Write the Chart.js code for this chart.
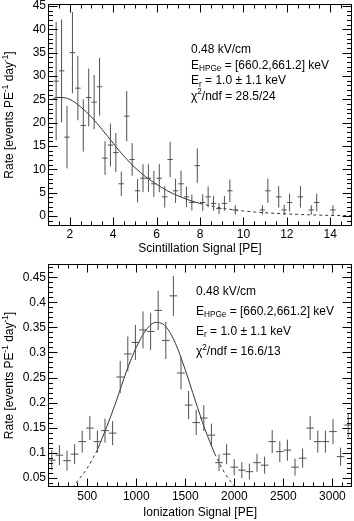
<!DOCTYPE html>
<html><head><meta charset="utf-8">
<script src="https://cdn.jsdelivr.net/npm/chart.js@4.4.1/dist/chart.umd.min.js"></script>
<style>
html,body{margin:0;padding:0;background:#fff;}
#wrap{position:relative;width:354px;height:521px;overflow:hidden;}
.panel{position:absolute;left:0;width:354px;}
#p1{top:0;height:260px;}
#p2{top:260px;height:261px;}
</style></head><body>
<div id="wrap">
<div class="panel" id="p1"><canvas id="c1"></canvas></div>
<div class="panel" id="p2"><canvas id="c2"></canvas></div>
</div>
<script>
// ---------- top panel: scintillation signal ----------
const scintCenters = [1.375,1.625,1.875,2.125,2.375,2.625,2.875,3.125,3.375,3.625,3.875,4.125,4.375,4.625,4.875,5.125,5.375,5.625,5.875,6.125,6.375,6.625,6.875,7.125,7.375,7.625,7.875,8.125,8.375,8.625,8.875,9.125,9.375,9.625,10.875,11.125,11.625,11.875,12.125,12.625,13.125,13.375,14.125];
const scintRate = [28.9,31.1,16.9,35.0,27.4,19.4,25.4,24.4,27.7,12.4,15.2,13.6,6.9,21.4,12.1,5.4,8.1,8.1,6.9,8.1,4.1,12.1,5.4,6.9,4.1,2.9,10.8,2.9,4.1,2.7,1.6,2.7,5.4,1.3,1.3,5.4,4.1,1.3,2.9,4.1,1.3,2.9,1.3];
const scintErr = [12.7,11.0,6.7,8.7,6.9,5.6,6.2,5.8,6.2,3.6,4.6,4.2,2.6,5.4,3.5,2.5,3.0,3.0,2.8,3.0,2.3,3.8,2.6,2.8,2.2,1.7,3.7,1.8,2.2,1.6,1.2,1.6,2.4,1.0,1.0,2.6,2.3,1.1,1.9,2.3,1.0,1.9,1.0];
const scintBinHalf = 0.125;
const scintFitX = [1.25,1.4,1.6,2.0,2.5,3.0,3.5,4.0,4.5,5.0,5.5,6.0,6.5,7.0,7.5,8.0,8.5,9.0,9.5,10.0,10.5,11.0,11.5,12.0,12.5,13.0,13.5,14.0,14.5,15.0];
const scintFitY = [25.2,25.4,25.4,25.0,23.4,21.2,18.5,15.6,12.8,10.4,8.4,6.8,5.4,4.3,3.4,2.7,2.15,1.7,1.35,1.08,0.87,0.7,0.56,0.45,0.35,0.26,0.19,0.14,0.11,0.08];
const scintFitRange = [1.25, 8.0];
const scintXTicks = [2,4,6,8,10,12,14];
const scintYTicks = [0,5,10,15,20,25,30,35,40,45];
const scintAnnot = [
  [{t:'0.48 kV/cm'}],
  [{t:'E'},{t:'HPGe',s:'sub'},{t:' = [660.2,661.2] keV'}],
  [{t:'E'},{t:'r',s:'sub'},{t:' = 1.0 \u00b1 1.1 keV'}],
  [{t:'\u03c7'},{t:'2',s:'sup'},{t:'/ndf = 28.5/24'}]
];

// ---------- bottom panel: ionization signal ----------
const ionCenters = [138.75,216.25,293.75,371.25,448.75,526.25,603.75,681.25,758.75,836.25,913.75,991.25,1068.75,1146.25,1223.75,1301.25,1378.75,1456.25,1533.75,1611.25,1688.75,1766.25,1843.75,1921.25,1998.75,2076.25,2153.75,2231.25,2308.75,2386.25,2463.75,2541.25,2618.75,2696.25,2773.75,2851.25,2928.75,3006.25,3083.75,3161.25];
const ionRate = [0.085,0.095,0.084,0.097,0.122,0.149,0.122,0.144,0.139,0.251,0.297,0.320,0.345,0.342,0.384,0.324,0.413,0.259,0.195,0.160,0.169,0.135,0.080,0.097,0.071,0.065,0.062,0.080,0.075,0.122,0.102,0.105,0.071,0.089,0.149,0.122,0.122,0.142,0.092,0.155];
const ionErr = [0.020,0.020,0.020,0.020,0.022,0.024,0.022,0.024,0.024,0.032,0.035,0.035,0.037,0.037,0.039,0.037,0.040,0.033,0.028,0.025,0.026,0.023,0.017,0.020,0.016,0.016,0.016,0.018,0.017,0.023,0.021,0.021,0.017,0.019,0.024,0.022,0.022,0.025,0.018,0.024];
const ionBinHalf = 38.75;
const ionFitX = [350,400,500,600,700,800,900,1000,1100,1200,1300,1400,1500,1600,1700,1800,1900,2000,2050];
const ionFitY = [0.030,0.043,0.069,0.104,0.152,0.205,0.262,0.310,0.345,0.360,0.352,0.318,0.265,0.205,0.147,0.098,0.060,0.034,0.025];
const ionFitRange = [600, 1800];
const ionXTicks = [500,1000,1500,2000,2500,3000];
const ionYTicks = [0.05,0.1,0.15,0.2,0.25,0.3,0.35,0.4,0.45];
const ionAnnot = [
  [{t:'0.48 kV/cm'}],
  [{t:'E'},{t:'HPGe',s:'sub'},{t:' = [660.2,661.2] keV'}],
  [{t:'E'},{t:'r',s:'sub'},{t:' = 1.0 \u00b1 1.1 keV'}],
  [{t:'\u03c7'},{t:'2',s:'sup'},{t:'/ndf = 16.6/13'}]
];

const yTitleParts = [{t:'Rate [events PE'},{t:'-1',s:'sup'},{t:' day'},{t:'-1',s:'sup'},{t:']'}];

// ---------- helpers ----------
const FONT = "'Liberation Sans', Arial, Helvetica, sans-serif";
function fontFor(p, size) {
  const sz = (p.s === 'sub' || p.s === 'sup') ? size * 0.68 : size;
  return sz.toFixed(1) + 'px ' + FONT;
}
function drawRich(ctx, parts, x, y, size, align) {
  let w = 0;
  for (const p of parts) { ctx.font = fontFor(p, size); w += ctx.measureText(p.t).width; }
  let cx = align === 'center' ? x - w / 2 : x;
  ctx.textAlign = 'left';
  for (const p of parts) {
    ctx.font = fontFor(p, size);
    const dy = p.s === 'sub' ? size * 0.28 : (p.s === 'sup' ? -size * 0.36 : 0);
    ctx.fillText(p.t, cx, y + dy);
    cx += ctx.measureText(p.t).width;
  }
}
function pts(xs, ys) { return xs.map((x, i) => ({x: x, y: ys[i]})); }
function splitFit(xs, ys, range) {
  const all = pts(xs, ys);
  return {
    left: all.filter(p => p.x <= range[0]),
    mid: all.filter(p => p.x >= range[0] && p.x <= range[1]),
    right: all.filter(p => p.x >= range[1])
  };
}

const errorBarPlugin = {
  id: 'errbars',
  afterDatasetsDraw(chart) {
    const {ctx, chartArea: a, scales: {x, y}} = chart;
    ctx.save();
    ctx.beginPath(); ctx.rect(a.left, a.top, a.right - a.left, a.bottom - a.top); ctx.clip();
    chart.data.datasets.forEach(ds => {
      if (!ds.errY) return;
      ctx.strokeStyle = ds.errColor; ctx.lineWidth = 1;
      ds.data.forEach((p, i) => {
        const px = x.getPixelForValue(p.x), py = y.getPixelForValue(p.y);
        const x0 = x.getPixelForValue(p.x - ds.halfWidth), x1 = x.getPixelForValue(p.x + ds.halfWidth);
        const y0 = y.getPixelForValue(p.y - ds.errY[i]), y1 = y.getPixelForValue(p.y + ds.errY[i]);
        ctx.beginPath();
        ctx.moveTo(x0, py); ctx.lineTo(x1, py);
        ctx.moveTo(px, y0); ctx.lineTo(px, y1);
        ctx.stroke();
      });
    });
    ctx.restore();
  }
};

const framePlugin = {
  id: 'rootframe',
  afterDraw(chart, args, o) {
    const {ctx, chartArea: a, scales: {x, y}} = chart;
    ctx.save();
    ctx.strokeStyle = '#000'; ctx.lineWidth = 1;
    const L = Math.round(a.left) + 0.5, R = Math.round(a.right) - 0.5;
    const T = Math.round(a.top) + 0.5, B = Math.round(a.bottom) - 0.5;
    ctx.strokeRect(L, T, R - L, B - T);
    ctx.beginPath();
    const isMajor = (v, m) => Math.abs(v / m - Math.round(v / m)) < 1e-6;
    const nx = Math.round((x.max - o.xFirst) / o.xMinor);
    for (let k = 0; k <= nx; k++) {
      const v = o.xFirst + k * o.xMinor;
      const len = isMajor(v, o.xMajor) ? o.xMajorLen : o.xMinorLen;
      const px = Math.round(x.getPixelForValue(v)) + 0.5;
      if (px <= L || px >= R) continue;
      ctx.moveTo(px, B); ctx.lineTo(px, B - len);
      ctx.moveTo(px, T); ctx.lineTo(px, T + len);
    }
    const ny = Math.round((y.max - o.yFirst) / o.yMinor);
    for (let k = 0; k <= ny; k++) {
      const v = o.yFirst + k * o.yMinor;
      const len = isMajor(v, o.yMajor) ? o.yMajorLen : o.yMinorLen;
      const py = Math.round(y.getPixelForValue(v)) + 0.5;
      if (py <= T || py >= B) continue;
      ctx.moveTo(L, py); ctx.lineTo(L + len, py);
      ctx.moveTo(R, py); ctx.lineTo(R - len, py);
    }
    ctx.stroke();
    ctx.restore();
  }
};

const textPlugin = {
  id: 'rtext',
  afterDraw(chart, args, o) {
    const {ctx, chartArea: a} = chart;
    ctx.save();
    ctx.fillStyle = '#000';
    ctx.textBaseline = 'middle';
    ctx.save();
    ctx.translate(o.yTitleX, (a.top + a.bottom) / 2);
    ctx.rotate(-Math.PI / 2);
    drawRich(ctx, yTitleParts, 0, 0, o.size, 'center');
    ctx.restore();
    o.lines.forEach((parts, k) => drawRich(ctx, parts, o.ax, o.ay + k * o.dy, o.size, 'left'));
    ctx.restore();
  }
};

function makeChart(canvasId, cfg) {
  const fit = splitFit(cfg.fitX, cfg.fitY, cfg.fitRange);
  const lineDs = (data, dash) => ({type: 'line', data: data, borderColor: '#333', borderWidth: 1,
    borderDash: dash, pointRadius: 0, fill: false, cubicInterpolationMode: 'monotone', clip: 0});
  const tickFont = {family: FONT, size: 12};
  return new Chart(document.getElementById(canvasId), {
    type: 'scatter',
    data: {datasets: [
      {type: 'scatter', data: pts(cfg.centers, cfg.rate), pointRadius: 0, errY: cfg.err, halfWidth: cfg.half, errColor: '#505050'},
      lineDs(fit.mid, []),
      lineDs(fit.left, [3, 3]),
      lineDs(fit.right, [3, 3])
    ]},
    options: {
      responsive: true, maintainAspectRatio: false, animation: false, devicePixelRatio: 1,
      events: [],
      layout: {padding: {top: 4, right: 2, left: 0, bottom: 0}},
      plugins: {
        legend: {display: false}, tooltip: {enabled: false},
        rootframe: cfg.frame,
        rtext: {size: 12, yTitleX: 10, lines: cfg.annot, ax: cfg.ax, ay: cfg.ay, dy: cfg.dy}
      },
      scales: {
        x: {type: 'linear', min: cfg.xmin, max: cfg.xmax,
          grid: {display: false, drawTicks: false}, border: {display: false},
          afterBuildTicks: s => { s.ticks = cfg.xTicks.map(v => ({value: v})); },
          afterFit: s => { s.height = cfg.xh; s.paddingLeft = 0; s.paddingRight = 0; },
          ticks: {font: tickFont, color: '#000', padding: cfg.xPad, maxRotation: 0, autoSkip: false, callback: v => String(v)},
          title: {display: true, text: cfg.xTitle, font: tickFont, color: '#000', padding: {top: 0, bottom: cfg.titlePad}}
        },
        y: {type: 'linear', min: cfg.ymin, max: cfg.ymax,
          grid: {display: false, drawTicks: false}, border: {display: false},
          afterBuildTicks: s => { s.ticks = cfg.yTicks.map(v => ({value: v})); },
          afterFit: s => { s.width = 48; s.paddingTop = 0; s.paddingBottom = 0; },
          ticks: {font: tickFont, color: '#000', padding: 2, autoSkip: false, callback: v => String(parseFloat(Number(v).toFixed(3)))}
        }
      }
    },
    plugins: [errorBarPlugin, framePlugin, textPlugin]
  });
}

makeChart('c1', {
  centers: scintCenters, rate: scintRate, err: scintErr, half: scintBinHalf,
  fitX: scintFitX, fitY: scintFitY, fitRange: scintFitRange,
  xmin: 1, xmax: 15, ymin: -2.14, ymax: 45.43,
  xTicks: scintXTicks, yTicks: scintYTicks, xTitle: 'Scintillation Signal [PE]',
  xh: 34, xPad: 1, titlePad: 4,
  annot: scintAnnot, ax: 191, ay: 50, dy: 15.5,
  frame: {xFirst: 1, xMinor: 0.5, xMajor: 2, xMajorLen: 8, xMinorLen: 4,
          yFirst: -2, yMinor: 1, yMajor: 5, yMajorLen: 9, yMinorLen: 4.5}
});

makeChart('c2', {
  centers: ionCenters, rate: ionRate, err: ionErr, half: ionBinHalf,
  fitX: ionFitX, fitY: ionFitY, fitRange: ionFitRange,
  xmin: 100, xmax: 3200, ymin: 0.0314, ymax: 0.4766,
  xTicks: ionXTicks, yTicks: ionYTicks, xTitle: 'Ionization Signal [PE]',
  xh: 34, xPad: 2.5, titlePad: 1,
  annot: ionAnnot, ax: 196, ay: 31.7, dy: 20,
  frame: {xFirst: 100, xMinor: 100, xMajor: 500, xMajorLen: 8, xMinorLen: 4,
          yFirst: 0.04, yMinor: 0.01, yMajor: 0.05, yMajorLen: 9, yMinorLen: 4.5}
});
</script>
</body></html>
